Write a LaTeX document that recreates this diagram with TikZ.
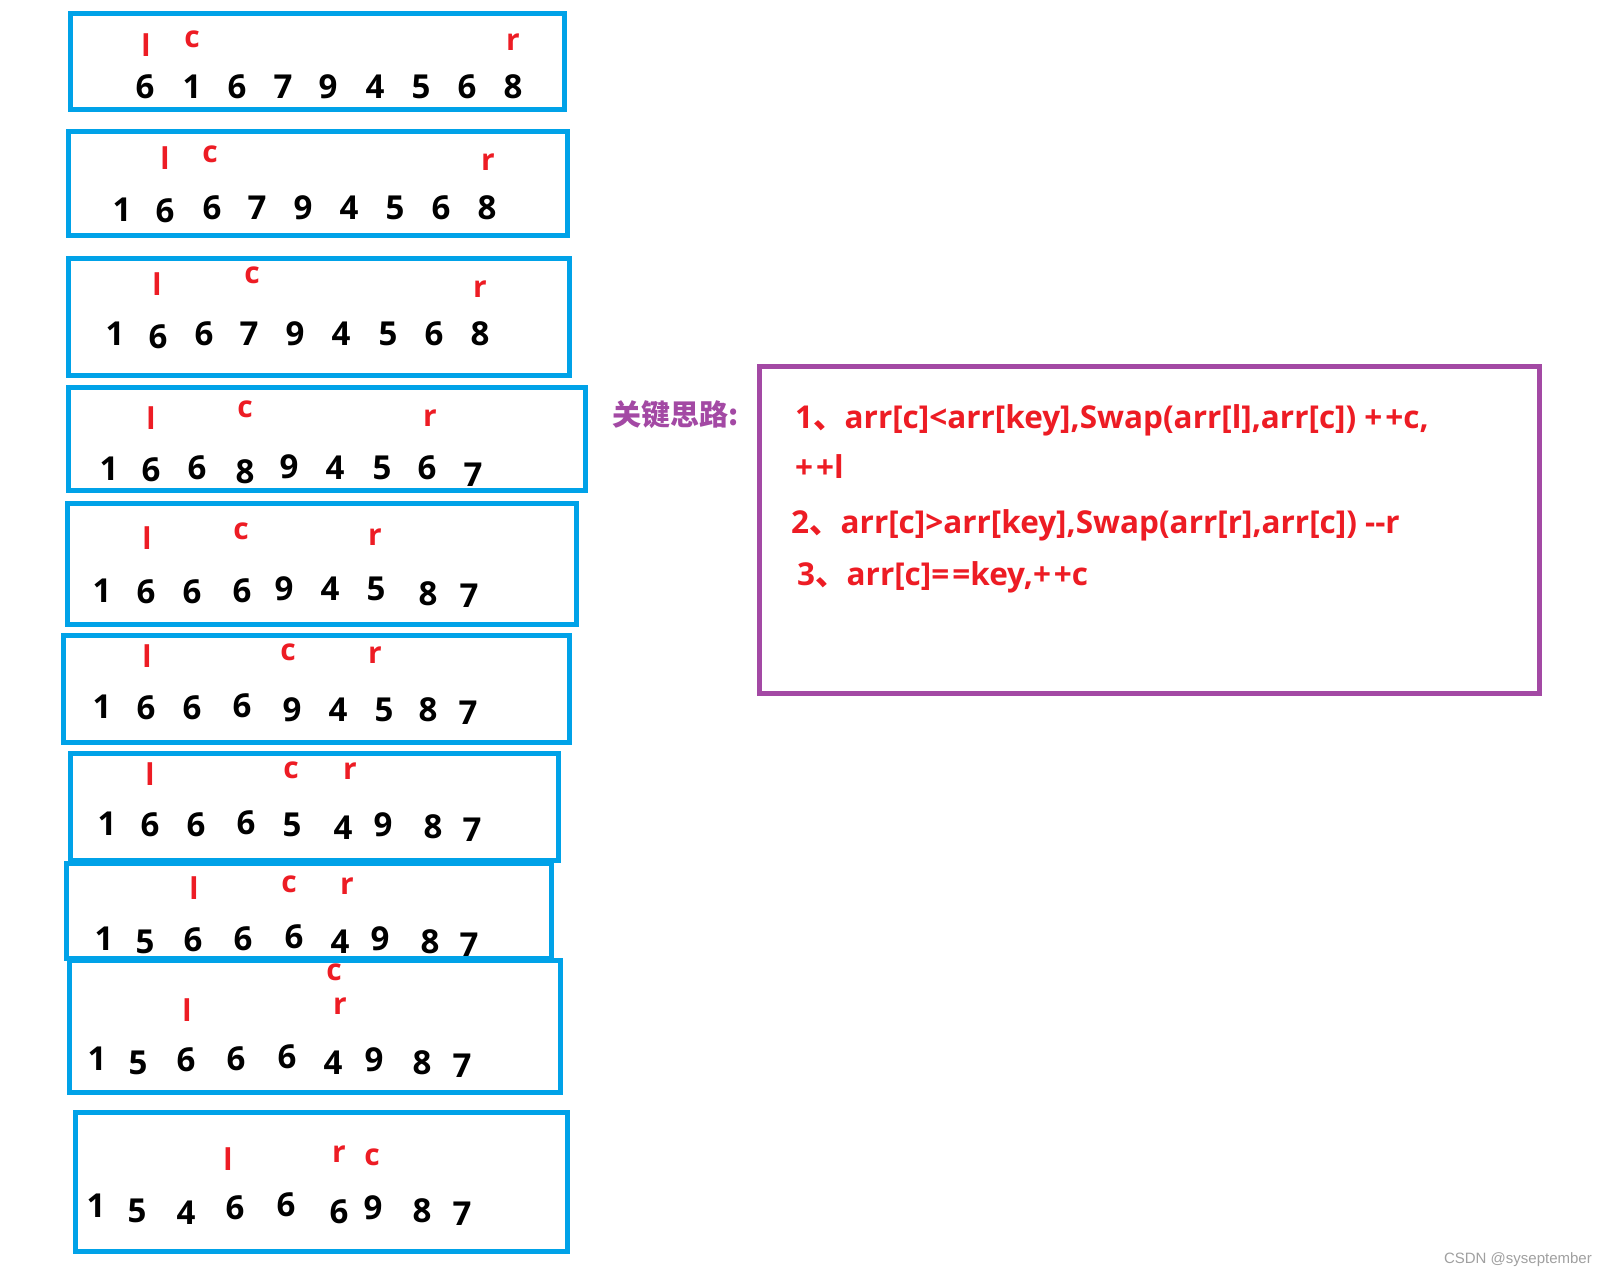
\documentclass[tikz,border=0pt]{standalone}
\usepackage{fontspec}
\setmainfont{Open Sans}
\newfontfamily\cjk{Noto Sans CJK SC}
\newfontfamily\wmfont{Liberation Sans}
\definecolor{pblue}{HTML}{00A2E8}
\definecolor{pred}{HTML}{ED1C24}
\definecolor{ppurple}{HTML}{A349A4}
\definecolor{wmgray}{HTML}{A0A0A0}
\newcommand{\dn}{{\cjk 、}}
\newcommand{\pp}{+\kern3pt+}
\newcommand{\eqq}{=\kern3pt=}
\begin{document}
\begin{tikzpicture}[x=1pt,y=-1pt,
  arrbox/.style={draw=pblue,line width=5pt},
  notebox/.style={draw=ppurple,line width=5pt},
  dig/.style={font=\bfseries\fontsize{33}{33}\selectfont,inner sep=0pt,text=black},
  ptr/.style={font=\bfseries\fontsize{30}{30}\selectfont,inner sep=0pt,text=pred},
  rule/.style={font=\bfseries\fontsize{31.5}{31.5}\selectfont,inner sep=0pt,text=pred,anchor=base west},
]
\useasboundingbox (0,0) rectangle (1607,1278);
\fill[white] (0,0) rectangle (1607,1278);

% ---------- boxes ----------
\draw[arrbox] (70.5,13.5) rectangle (564.5,109.5);
\draw[arrbox] (68.5,131.5) rectangle (567.5,235.5);
\draw[arrbox] (68.5,258.5) rectangle (569.5,375.5);
\draw[arrbox] (68.5,387.5) rectangle (585.5,490.5);
\draw[arrbox] (67.5,503.5) rectangle (576.5,624.5);
\draw[arrbox] (63.5,635.5) rectangle (569.5,742.5);
\draw[arrbox] (70.5,753.5) rectangle (558.5,860.5);
\draw[arrbox] (66.5,863.5) rectangle (551.5,958.5);
\draw[arrbox] (69.5,960.5) rectangle (560.5,1092.5);
\draw[arrbox] (75.5,1112.5) rectangle (567.5,1251.5);

% ---------- row 1 ----------
\foreach \x/\y/\d [count=\k] in {145/87/6,192/87/1,237/87/6,283/87/7,328/87/9,375/87/4,421/87/5,467/87/6,513/87/8}
  \node[dig] (ra\k) at (\x,\y) {\d};
\node[ptr] (ral) at (146,45) {l};
\node[ptr] (rac) at (192,39) {c};
\node[ptr] (rar) at (513,42) {r};

% ---------- row 2 ----------
\foreach \x/\y/\d [count=\k] in {122/210/1,165/211/6,212/208/6,257/208/7,303/208/9,349/208/4,395/208/5,441/208/6,487/208/8}
  \node[dig] (rb\k) at (\x,\y) {\d};
\node[ptr] (rbl) at (165,158) {l};
\node[ptr] (rbc) at (210,154) {c};
\node[ptr] (rbr) at (488,162) {r};

% ---------- row 3 ----------
\foreach \x/\y/\d [count=\k] in {115/334/1,158/337/6,204/334/6,249/334/7,295/334/9,341/334/4,388/334/5,434/334/6,480/334/8}
  \node[dig] (rc\k) at (\x,\y) {\d};
\node[ptr] (rcl) at (157,284) {l};
\node[ptr] (rcc) at (252,275) {c};
\node[ptr] (rcr) at (480,289) {r};

% ---------- row 4 ----------
\foreach \x/\y/\d [count=\k] in {109/469/1,151/470/6,197/468/6,245/472/8,289/467/9,335/468/4,382/468/5,427/468/6,473/475/7}
  \node[dig] (rd\k) at (\x,\y) {\d};
\node[ptr] (rdl) at (151,418) {l};
\node[ptr] (rdc) at (245,409) {c};
\node[ptr] (rdr) at (430,418) {r};

% ---------- row 5 ----------
\foreach \x/\y/\d [count=\k] in {102/591/1,146/592/6,192/592/6,242/591/6,284/589/9,330/589/4,376/589/5,428/594/8,469/596/7}
  \node[dig] (re\k) at (\x,\y) {\d};
\node[ptr] (rel) at (147,538) {l};
\node[ptr] (rec) at (241,531) {c};
\node[ptr] (rer) at (375,537) {r};

% ---------- row 6 ----------
\foreach \x/\y/\d [count=\k] in {102/707/1,146/708/6,192/708/6,242/706/6,292/710/9,338/710/4,384/710/5,428/710/8,468/713/7}
  \node[dig] (rf\k) at (\x,\y) {\d};
\node[ptr] (rfl) at (147,656) {l};
\node[ptr] (rfc) at (288,652) {c};
\node[ptr] (rfr) at (375,655) {r};

% ---------- row 7 ----------
\foreach \x/\y/\d [count=\k] in {107/824/1,150/825/6,196/825/6,246/823/6,292/825/5,343/828/4,383/825/9,433/827/8,472/830/7}
  \node[dig] (rg\k) at (\x,\y) {\d};
\node[ptr] (rgl) at (150,774) {l};
\node[ptr] (rgc) at (291,770) {c};
\node[ptr] (rgr) at (350,771) {r};

% ---------- row 8 ----------
\foreach \x/\y/\d [count=\k] in {104/939/1,145/942/5,193/940/6,243/939/6,294/937/6,340/942/4,380/939/9,430/942/8,469/945/7}
  \node[dig] (rh\k) at (\x,\y) {\d};
\node[ptr] (rhl) at (194,888) {l};
\node[ptr] (rhc) at (289,884) {c};
\node[ptr] (rhr) at (347,886) {r};

% ---------- row 9 ----------
\foreach \x/\y/\d [count=\k] in {97/1059/1,138/1063/5,186/1060/6,236/1059/6,287/1057/6,333/1063/4,374/1060/9,422/1063/8,462/1066/7}
  \node[dig] (ri\k) at (\x,\y) {\d};
\node[ptr] (ric) at (334,972) {c};
\node[ptr] (rir) at (340,1006) {r};
\node[ptr] (ril) at (187,1010) {l};

% ---------- row 10 ----------
\foreach \x/\y/\d [count=\k] in {96/1206/1,137/1211/5,186/1213/4,235/1208/6,286/1205/6,339/1212/6,373/1208/9,422/1211/8,462/1214/7}
  \node[dig] (rj\k) at (\x,\y) {\d};
\node[ptr] (rjl) at (228,1159) {l};
\node[ptr] (rjr) at (339,1154) {r};
\node[ptr] (rjc) at (372,1157) {c};

% ---------- notes ----------
\node[font=\cjk\bfseries\fontsize{29}{29}\selectfont,text=ppurple,inner sep=0pt,anchor=base west] (title) at (612,425) {关键思路:};
\draw[notebox] (759.5,366.5) rectangle (1539.5,693.5);
\node[rule] (l1) at (795,428) {1\dn arr[c]<arr[key],Swap(arr[l],arr[c]) \pp c,};
\node[rule] (l1b) at (795,478) {\pp l};
\node[rule] (l2) at (791,533) {2\dn arr[c]>arr[key],Swap(arr[r],arr[c]) -{}-r};
\node[rule] (l3) at (797,585) {3\dn arr[c]\eqq key,\pp c};

\node[font=\wmfont\fontsize{15}{15}\selectfont,text=wmgray,inner sep=0pt,anchor=east] (wm) at (1592,1260) {CSDN @syseptember};
\end{tikzpicture}
\end{document}
